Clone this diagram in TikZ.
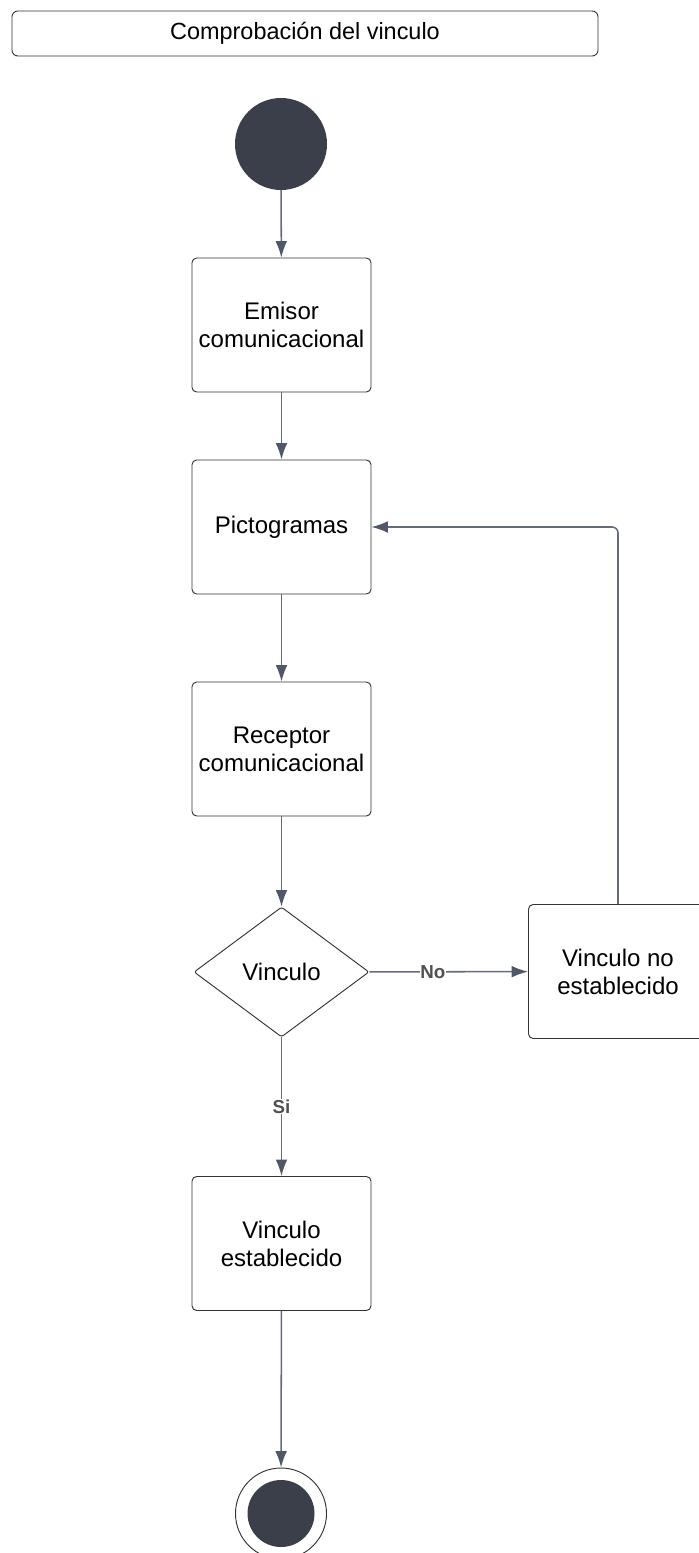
\documentclass[tikz,border=0pt]{standalone}
\usepackage{fontspec}
\setmainfont{Liberation Sans}
\usetikzlibrary{arrows.meta,shapes.geometric}
\definecolor{nodefill}{RGB}{58,63,74}
\definecolor{edgecol}{RGB}{100,108,124}
\definecolor{tipcol}{RGB}{80,88,104}
\definecolor{boxline}{RGB}{51,51,51}
\definecolor{lblcol}{RGB}{80,80,80}
\begin{document}
\begin{tikzpicture}[x=0.03cm, y=-0.03cm,
  act/.style={draw=boxline, line width=0.8pt, rounded corners=4pt, minimum width=5.37cm, minimum height=4.02cm, inner sep=0pt, align=center, font=\fontsize{20.5pt}{24pt}\selectfont},
  choice/.style={diamond, draw=boxline, line width=0.8pt, rounded corners=2pt, minimum width=5.25cm, minimum height=3.9cm, inner sep=0pt, font=\fontsize{20.5pt}{24pt}\selectfont},
  flow/.style={draw=edgecol, line width=1.3pt, -{Latex[length=14pt, width=10pt, color=tipcol]}},
  lbl/.style={fill=white, inner sep=0.5pt, text=lblcol, font=\fontsize{16pt}{18pt}\selectfont\bfseries}]
\useasboundingbox (0,0) rectangle (698,1553);
\node[draw=boxline, line width=0.8pt, rounded corners=5pt, minimum width=17.58cm, minimum height=1.35cm, font=\fontsize{20pt}{24pt}\selectfont] (nid0) at (305,33.5){Comprobación del vinculo};
\node[circle, fill=nodefill, minimum size=2.76cm, inner sep=0pt] (nid1) at (281,144){};
\node[act] (nid2) at (281.5,325){Emisor\\comunicacional};
\draw[flow] (nid1) -- (nid2);
\node[act] (nid3) at (281.5,527){Pictogramas};
\draw[flow] (nid2) -- (nid3);
\node[act] (nid4) at (281.5,749){Receptor\\comunicacional};
\draw[flow] (nid3) -- (nid4);
\node[choice] (nid5) at (281.5,972){Vinculo};
\draw[flow] (nid4) -- (nid5);
\node[act] (nid6) at (618,971.5){Vinculo no\\establecido};
\draw[flow] (nid5) -- node[lbl, pos=0.4]{No} (nid6);
\draw[flow, rounded corners=5pt] (nid6.north) |- (nid3.east);
\node[act] (nid7) at (281.5,1243.5){Vinculo\\establecido};
\draw[flow] (nid5) -- node[lbl]{Si} (nid7);
\node[circle, draw=boxline, line width=0.8pt, minimum size=2.73cm, inner sep=0pt] (nid8) at (281,1513.5){};
\node[circle, fill=nodefill, minimum size=2.01cm, inner sep=0pt] (nid9) at (nid8){};
\draw[flow] (nid7) -- (nid8);
\end{tikzpicture}
\end{document}
